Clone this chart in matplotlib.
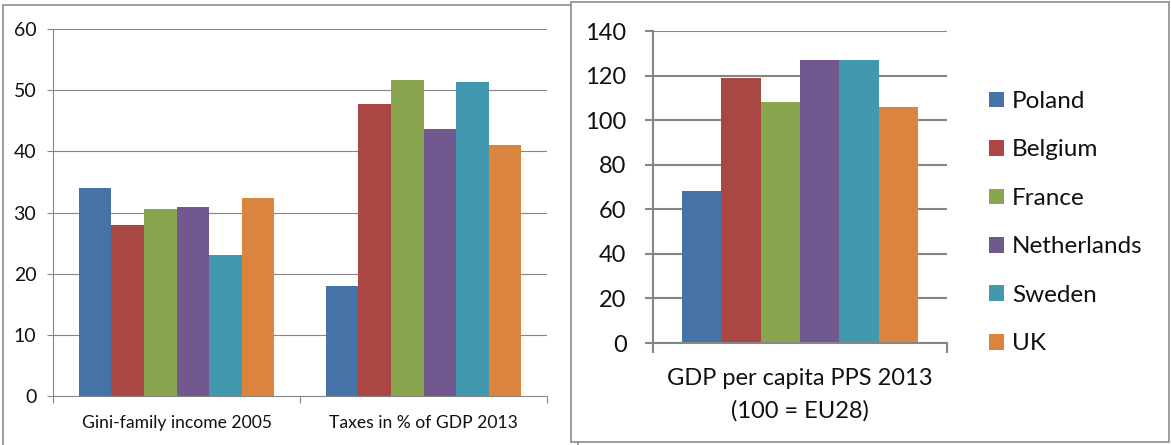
"""Two Excel-style bar charts: Gini / taxes and GDP per capita."""

import matplotlib
matplotlib.use("Agg")
import numpy as np
from matplotlib import pyplot as plt
from matplotlib.patches import Rectangle

plt.rcParams['font.family'] = ['Lato', 'DejaVu Sans']

countries = ['Poland', 'Belgium', 'France', 'Netherlands', 'Sweden', 'UK']
colors = ['#4572A7', '#AA4643', '#89A54E', '#71588F', '#4198AF', '#DB843D']

left_categories = ['Gini-family income 2005', 'Taxes in % of GDP 2013']
gini_2005 = [34.0, 27.9, 30.5, 30.9, 23.0, 32.3]
taxes_2013 = [18.0, 47.7, 51.6, 43.7, 51.4, 41.1]

right_category = 'GDP per capita PPS 2013\n(100 = EU28)'
gdp_pps_2013 = [68, 119, 108, 127, 127, 106]

W, H = 1171, 445
grid_col = '#868686'
text_col = '#111111'

fig = plt.figure(figsize=(W / 100, H / 100), dpi=100)

# chart frames (figure pixel coords)
fig.add_artist(Rectangle((3 / W, 1 - 450 / H), 575 / W, 445 / H, transform=fig.transFigure,
                         facecolor='white', edgecolor='#8c8c8c', lw=1.2, zorder=-2))
fig.add_artist(Rectangle((571 / W, 1 - 442 / H), 598 / W, 440 / H, transform=fig.transFigure,
                         facecolor='white', edgecolor='#8c8c8c', lw=1.2, zorder=-1))

# ---- left chart
ax1 = fig.add_axes([53 / W, 1 - 396 / H, 494 / W, 367 / H])
w1 = 0.79 / len(countries)
left_values = np.array([gini_2005, taxes_2013])
for i, (name, col) in enumerate(zip(countries, colors)):
    ax1.bar(np.arange(2) + (i - 2.5) * w1, left_values[:, i], width=w1, color=col, label=name)
ax1.set_xlim(-0.5, 1.5)
ax1.set_ylim(0, 60)
ax1.set_yticks(np.arange(0, 61, 10))
ax1.set_xticks([0, 1])
ax1.set_xticklabels(left_categories)
ax1.set_xticks([-0.5, 0.5, 1.5], minor=True)
ax1.set_axisbelow(True)
ax1.yaxis.grid(True, color=grid_col, lw=0.8)
for s in ['top', 'right']:
    ax1.spines[s].set_visible(False)
for s in ['left', 'bottom']:
    ax1.spines[s].set_color(grid_col)
    ax1.spines[s].set_linewidth(0.8)
ax1.tick_params(axis='y', direction='out', length=4, width=0.8, color=grid_col,
                labelsize=14, labelcolor=text_col, pad=8)
ax1.tick_params(axis='x', which='major', length=0, labelsize=12.6, labelcolor=text_col, pad=14)
ax1.tick_params(axis='x', which='minor', direction='out', length=5, width=0.8, color=grid_col)

# ---- right chart
ax2 = fig.add_axes([653 / W, 1 - 343 / H, 294 / W, 312 / H])
w2 = 0.803 / len(countries)
for i, (name, col) in enumerate(zip(countries, colors)):
    ax2.bar((i - 2.5) * w2, gdp_pps_2013[i], width=w2, color=col, label=name)
ax2.set_xlim(-0.5, 0.5)
ax2.set_ylim(0, 140)
ax2.set_yticks(np.arange(0, 141, 20))
ax2.set_xticks([0])
ax2.set_xticklabels([right_category], linespacing=1.65)
ax2.set_xticks([-0.5, 0.5], minor=True)
ax2.set_axisbelow(True)
ax2.yaxis.grid(True, color=grid_col, lw=1.5)
for s in ['top', 'right']:
    ax2.spines[s].set_visible(False)
for s in ['left', 'bottom']:
    ax2.spines[s].set_color(grid_col)
    ax2.spines[s].set_linewidth(1.5)
ax2.tick_params(axis='y', direction='out', length=6, width=1.5, color=grid_col,
                labelsize=17, labelcolor=text_col, pad=13)
ax2.tick_params(axis='x', which='major', length=0, labelsize=17, labelcolor=text_col, pad=18)
ax2.tick_params(axis='x', which='minor', direction='out', length=7, width=1.5, color=grid_col)

ax2.legend(loc='upper left', bbox_to_anchor=(989 / W, 1 - 91 / H), bbox_transform=fig.transFigure,
           frameon=False, fontsize=17.5, handlelength=0.62, handleheight=0.62,
           handletextpad=0.33, labelspacing=1.13, borderpad=0, borderaxespad=0,
           labelcolor=text_col)

fig.savefig('out.png', dpi=100)
